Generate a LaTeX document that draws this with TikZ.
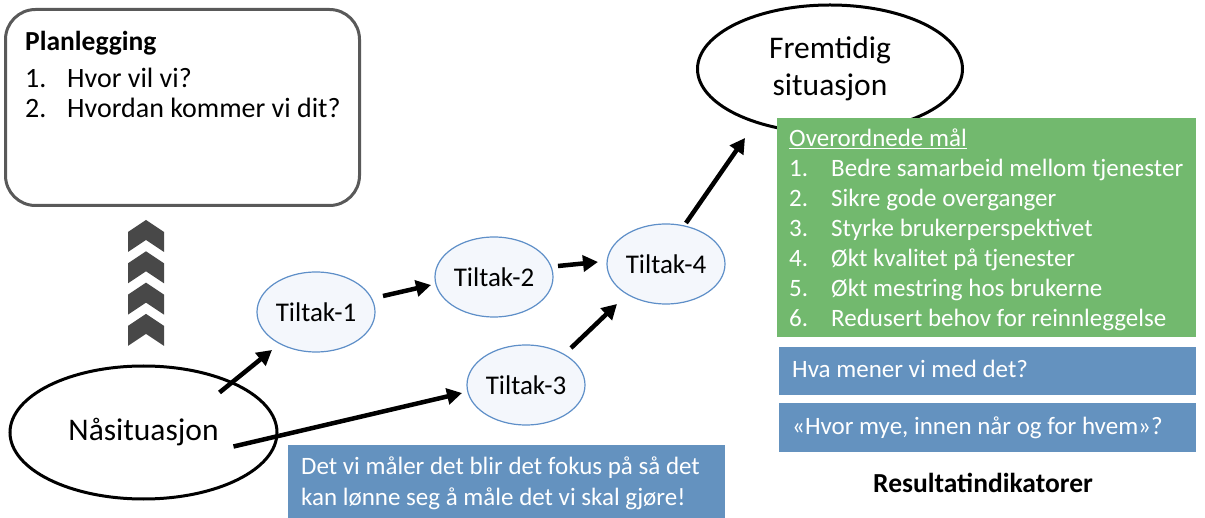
\documentclass[tikz,border=0pt]{standalone}
\usepackage{fontspec}
\setmainfont{Carlito}
\usetikzlibrary{arrows.meta,shapes.geometric}

\definecolor{framegray}{HTML}{595959}
\definecolor{chevgray}{HTML}{484848}
\definecolor{boxgreen}{HTML}{72B96E}
\definecolor{boxblue}{HTML}{6492BF}
\definecolor{tiltakfill}{HTML}{F4F7FC}
\definecolor{tiltakline}{HTML}{5E8FC8}

\tikzset{
  body/.style={font=\fontsize{25}{30}\selectfont},
  txt/.style={body, anchor=base west, inner sep=0pt},
  ptxt/.style={txt, font=\fontsize{28}{30}\selectfont},
  wtxt/.style={txt, text=white},
  oval/.style={draw=black, line width=3pt, ellipse, inner sep=0pt, fill=white,
               font=\fontsize{31.5}{37}\selectfont, align=center},
  tiltak/.style={draw=tiltakline, fill=tiltakfill, line width=1.2pt, ellipse,
                 minimum width=118pt, minimum height=80pt, inner sep=0pt,
                 font=\fontsize{27}{30}\selectfont},
  arr/.style={line width=4.5pt, -{Triangle[length=15pt,width=16pt]}},
  panel/.style={anchor=north west, inner sep=0pt},
  chev/.style={fill=chevgray},
}

\begin{document}
\begin{tikzpicture}[x=1pt,y=-1pt]
\useasboundingbox (0,0) rectangle (1205,518);

% planning box
\node[draw=framegray, line width=3pt, rounded corners=30pt,
      minimum width=354pt, minimum height=196pt, anchor=north west]
      (plan) at (4,8) {};
\node[ptxt, font=\fontsize{27.5}{30}\bfseries\selectfont] (planhead) at (25,51) {Planlegging};
\node[ptxt] (pn1) at (25,88) {1.};
\node[ptxt] (pt1) at (67,88) {Hvor vil vi?};
\node[ptxt] (pn2) at (25,118) {2.};
\node[ptxt] (pt2) at (67,118) {Hvordan kommer vi dit?};

% stacked chevrons pointing upwards
\foreach \k in {0,1,2,3} {
  \fill[chev, yshift=-31.3*\k pt]
    (146,220) -- (164,232) -- (164,252) -- (146,240) -- (128,252) -- (128,232) -- cycle;
}

% current and future situation
\node[oval, minimum width=267pt, minimum height=133pt] (naa) at (143.5,432.5) {Nåsituasjon};
\node[oval, minimum width=265pt, minimum height=128pt] (fremtid) at (830,69)
      {Fremtidig\\situasjon};

% measures
\node[tiltak] (t1) at (316,312) {Tiltak-1};
\node[tiltak] (t2) at (494,277) {Tiltak-2};
\node[tiltak] (t3) at (526,385) {Tiltak-3};
\node[tiltak] (t4) at (666,264) {Tiltak-4};

% goal panel
\node[panel, fill=boxgreen, minimum width=419pt, minimum height=219pt] (maal) at (777,118) {};
\node[wtxt] (maalhead) at (789,147) {\underline{Overordnede mål}};
\foreach \i/\t [count=\n] in {
  177/Bedre samarbeid mellom tjenester,
  207/Sikre gode overganger,
  237/Styrke brukerperspektivet,
  267/Økt kvalitet på tjenester,
  297/Økt mestring hos brukerne,
  327/Redusert behov for reinnleggelse} {
  \node[wtxt] (mn\n) at (789,\i) {\n.};
  \node[wtxt] (mt\n) at (831,\i) {\t};
}

% indicator panels
\node[panel, fill=boxblue, minimum width=417pt, minimum height=48pt] (hva) at (779,347) {};
\node[wtxt] (hvatxt) at (792,378) {Hva mener vi med det?};
\node[panel, fill=boxblue, minimum width=417pt, minimum height=49pt] (hvor) at (779,403) {};
\node[wtxt] (hvortxt) at (792,435) {«Hvor mye, innen når og for hvem»?};
\node[body, font=\fontsize{27.5}{30}\bfseries\selectfont, anchor=base, inner sep=0pt]
      (indik) at (983,492) {Resultatindikatorer};

% note panel
\node[panel, fill=boxblue, minimum width=437pt, minimum height=73pt] (note) at (288,445) {};
\node[wtxt] (note1) at (301,475) {Det vi måler det blir det fokus på så det};
\node[wtxt] (note2) at (301,505) {kan lønne seg å måle det vi skal gjøre!};

% connectors
\draw[arr] ([shift={(76,-40)}]naa.center) -- ([shift={(-44,38)}]t1.center);
\draw[arr] ([shift={(90,14)}]naa.center) -- ([shift={(-64,8)}]t3.center);
\draw[arr] ([shift={(67,-16)}]t1.center) -- ([shift={(-63,8)}]t2.center);
\draw[arr] ([shift={(64,-11)}]t2.center) -- ([shift={(-68,-2)}]t4.center);
\draw[arr] ([shift={(45,-37)}]t3.center) -- ([shift={(-49,40)}]t4.center);
\draw[arr] ([shift={(20,-41)}]t4.center) -- ([shift={(-85,69)}]fremtid.center);
\end{tikzpicture}
\end{document}
